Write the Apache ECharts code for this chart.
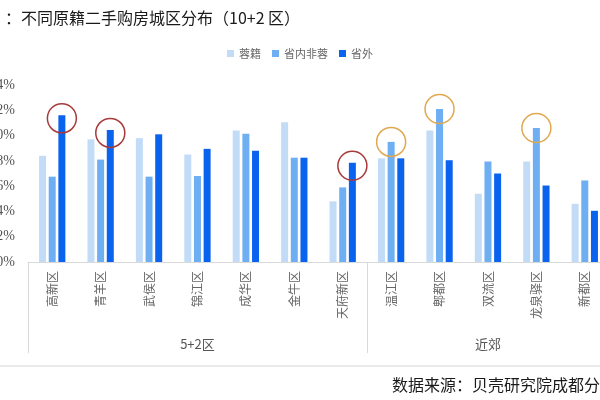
<!DOCTYPE html>
<html>
<head>
<meta charset="utf-8">
<script src="https://cdn.jsdelivr.net/npm/echarts@6/dist/echarts.min.js"></script>
<style>html,body{margin:0;padding:0;background:#fff;}#main{width:600px;height:400px;}</style>
</head>
<body>
<div id="main"></div>
<script>
var categories = ['高新区','青羊区','武侯区','锦江区','成华区','金牛区','天府新区','温江区','郫都区','双流区','龙泉驿区','新都区'];
var groupLabels = ['','','','5+2区','','','','','','近郊','',''];
var rongji = [8.4, 9.7, 9.8, 8.5, 10.4, 11.05, 4.8, 8.2, 10.4, 5.4, 7.95, 4.6];
var shengneiFeiRong = [6.75, 8.1, 6.75, 6.8, 10.15, 8.25, 5.9, 9.5, 12.1, 7.95, 10.6, 6.45];
var shengwai = [11.6, 10.45, 10.1, 8.95, 8.8, 8.25, 7.85, 8.2, 8.05, 7.0, 6.05, 4.05];
var yTicks = { min: 0, max: 14, interval: 2 };
var redMarks = [0, 1, 6];     // 省外 highlighted
var orangeMarks = [7, 8, 10]; // 省内非蓉 highlighted

var font = '"Noto Sans CJK SC", "Noto Sans", sans-serif';
var chart = echarts.init(document.getElementById('main'));

function marks(idxs, vals, color, off) {
  return {
    symbol: 'circle',
    symbolSize: 29,
    symbolOffset: [0, off],
    silent: true,
    label: { show: false },
    itemStyle: { color: 'rgba(0,0,0,0)', borderColor: color, borderWidth: 1.5 },
    data: idxs.map(function (i) { return { coord: [categories[i], vals[i]] }; })
  };
}

chart.setOption({
  animation: false,
  backgroundColor: '#fff',
  title: [
    { text: '：不同原籍二手购房城区分布（10+2 区）', left: 0, top: 5,
      textStyle: { fontFamily: font, fontSize: 16, fontWeight: 'normal', color: '#1a1a1a' } },
    { text: '数据来源：贝壳研究院成都分院', left: 387, top: 372,
      textStyle: { fontFamily: font, fontSize: 16, fontWeight: 'normal', color: '#1a1a1a' } }
  ],
  legend: {
    top: 43, left: 222,
    itemWidth: 7, itemHeight: 7, itemGap: 11,
    icon: 'rect',
    textStyle: { fontFamily: font, fontSize: 11, color: '#666' },
    data: ['蓉籍', '省内非蓉', '省外']
  },
  grid: { left: 28, right: -9, top: 85, bottom: 138, containLabel: false, outerBoundsMode: 'none' },
  xAxis: [
    {
      type: 'category', data: categories,
      axisLine: { lineStyle: { color: '#d9d9d9' } },
      axisTick: { show: true, length: 91, interval: function (i) { return i === 0 || i === 7; },
        lineStyle: { color: '#d9d9d9' } },
      axisLabel: { rotate: 90, margin: 9, interval: 0, fontFamily: font, fontSize: 12, color: '#666' }
    },
    {
      type: 'category', data: groupLabels, position: 'bottom', offset: 68,
      axisLine: { show: false }, axisTick: { show: false },
      axisLabel: { interval: 0, margin: 8, fontFamily: font, fontSize: 13, color: '#555' }
    }
  ],
  yAxis: {
    type: 'value', min: yTicks.min, max: yTicks.max, interval: yTicks.interval,
    axisLine: { show: false }, axisTick: { show: false }, splitLine: { show: false },
    axisLabel: { margin: 13, formatter: '{value}%', fontFamily: '"Liberation Serif", serif', fontSize: 14, color: '#555' }
  },
  graphic: [
    { type: 'line', shape: { x1: 0, y1: 366, x2: 600, y2: 366 }, style: { stroke: '#e3e3e3', lineWidth: 1.5 } }
  ],
  series: [
    { name: '蓉籍', type: 'bar', data: rongji, barWidth: 7, barGap: '38%', itemStyle: { color: '#c2dcf7' } },
    { name: '省内非蓉', type: 'bar', data: shengneiFeiRong, barWidth: 7, barGap: '38%', itemStyle: { color: '#6eaef3' },
      markPoint: marks(orangeMarks, shengneiFeiRong, '#e0a850', 0) },
    { name: '省外', type: 'bar', data: shengwai, barWidth: 7, barGap: '38%', itemStyle: { color: '#0a63ee' },
      markPoint: marks(redMarks, shengwai, '#a83a3a', 3) }
  ]
});
</script>
</body>
</html>
